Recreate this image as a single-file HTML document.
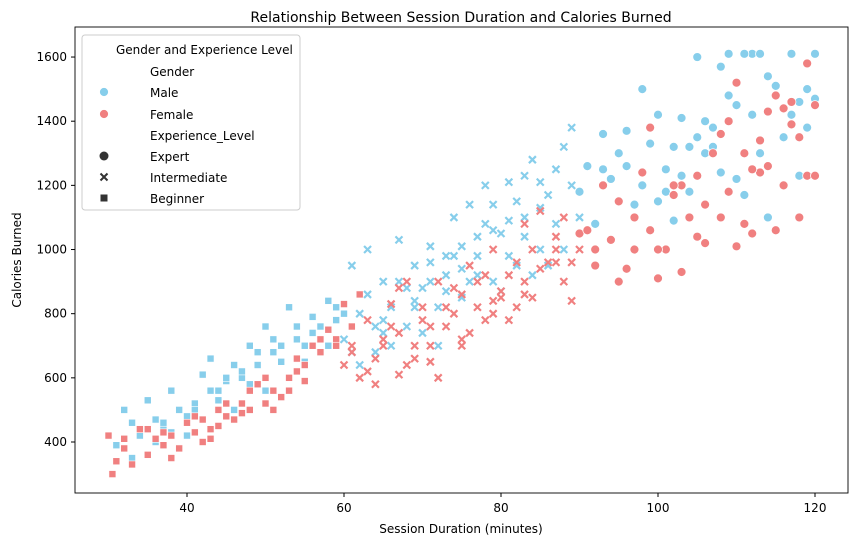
<!DOCTYPE html>
<html><head><meta charset="utf-8"><style>
body{margin:0;background:#fff;font-family:"Liberation Sans","DejaVu Sans",sans-serif}
svg text{font-family:"DejaVu Sans","Liberation Sans",sans-serif;fill:#000}
</style></head><body>
<svg id="chart" width="859" height="547" xmlns="http://www.w3.org/2000/svg">
<text x="461" y="22" font-size="14" text-anchor="middle">Relationship Between Session Duration and Calories Burned</text>
<g id="plot"></g>
<rect x="75" y="27" width="773" height="466" fill="none" stroke="#000" stroke-width="0.9"/>
<g id="axes"></g>
<text x="461" y="533" font-size="12" text-anchor="middle">Session Duration (minutes)</text>
<text transform="translate(21,260) rotate(-90)" font-size="12" text-anchor="middle">Calories Burned</text>
<g>
<rect x="82" y="35" width="218" height="175" rx="3" fill="#fff" fill-opacity="0.85" stroke="#ccc"/>
<text x="116" y="54" font-size="12">Gender and Experience Level</text>
<text x="150" y="76" font-size="12">Gender</text>
<circle cx="104" cy="92" r="4.5" fill="#87CEEB" stroke="#fff" stroke-width="0.8"/><text x="150" y="97" font-size="12">Male</text>
<circle cx="104" cy="114" r="4.5" fill="#F08080" stroke="#fff" stroke-width="0.8"/><text x="150" y="119" font-size="12">Female</text>
<text x="150" y="140" font-size="12">Experience_Level</text>
<circle cx="104" cy="156" r="4.5" fill="#333"/><text x="150" y="161" font-size="12">Expert</text>
<path d="M100.5,173.5l7,7M107.5,173.5l-7,7" stroke="#333" stroke-width="2"/><text x="150" y="182" font-size="12">Intermediate</text>
<rect x="100.5" y="194.5" width="7" height="7" fill="#333"/><text x="150" y="203" font-size="12">Beginner</text>
</g>
</svg>
<script>
const xTicks=[40,60,80,100,120];
const yTicks=[400,600,800,1000,1200,1400,1600];
const maleBeginnerX=[31,32,33,34,35,36,37,38,39,40,41,42,43,44,45,46,47,48,49,50,51,52,53,54,55,56,57,58,59,60,33,36,40,44,48,50,55,58,38,46,34,37,41,43,47,49,52,54,56,57,59,45,51];
const maleBeginnerY=[390,500,460,420,530,470,440,560,500,420,520,610,660,560,590,640,600,700,680,760,720,650,820,720,700,790,760,840,820,800,350,400,480,530,580,560,650,700,430,500,440,460,500,560,620,640,700,760,740,720,780,600,680];
const femaleBeginnerX=[30,30.5,31,32,33,34,35,36,37,38,39,40,41,42,43,44,45,46,47,48,49,50,51,52,53,54,55,56,57,58,59,60,62,45,50,55,42,38,48,53,32,35,37,41,44,47,51,54,57,59,61,43];
const femaleBeginnerY=[420,300,340,380,330,440,360,410,390,420,380,460,430,470,410,500,480,470,520,560,580,520,500,540,600,660,640,700,680,750,720,830,860,520,600,590,400,350,500,560,410,440,430,480,450,490,560,620,720,700,760,440];
const maleInterX=[60,61,62,63,64,65,66,67,68,69,70,71,72,73,74,75,76,77,78,79,80,81,82,83,84,85,86,87,88,89,90,64,68,72,76,80,84,62,70,78,86,74,66,82,88,61,63,65,67,69,71,73,75,77,79,81,83,85,87,89,65,69,73,77,81,85,71,75,79,83];
const maleInterY=[720,950,800,1000,680,900,820,1030,760,950,880,1010,700,920,1100,850,1140,980,1200,900,1050,1210,950,1100,1280,1000,1170,1250,1320,1380,1100,760,880,820,900,870,920,640,740,1080,950,980,700,1150,1000,680,860,780,900,840,960,870,1010,920,1060,980,1040,1130,1080,1200,740,820,980,1040,1090,1210,900,940,1140,1230];
const femaleInterX=[60,61,62,63,64,65,66,67,68,69,70,71,72,73,74,75,76,77,78,79,80,81,82,83,84,85,86,87,88,89,90,64,68,72,76,80,84,88,70,78,82,66,74,61,63,65,67,69,71,73,75,77,79,81,83,85,87,89,67,71,75,79,83,87];
const femaleInterY=[640,700,600,780,660,720,830,610,900,700,820,650,900,760,880,700,950,820,780,1000,870,780,960,1080,850,1120,960,1000,1100,840,1000,580,640,600,740,850,1000,900,780,920,820,760,800,680,620,700,740,660,760,820,860,900,840,920,900,940,1040,960,880,700,720,800,860,960,1060];
const maleExpertX=[90,91,92,93,94,95,96,97,98,99,100,101,102,103,104,105,106,107,108,109,110,111,112,113,114,115,116,117,118,119,120,110,104,100,108,112,116,118,96,102,106,114,119,111,113,93,98,103,107,109,115,117,120,105,101];
const maleExpertY=[1180,1260,1080,1360,1220,1300,1370,1140,1500,1330,1420,1250,1320,1410,1180,1600,1300,1380,1570,1610,1450,1170,1610,1300,1540,1480,1200,1610,1460,1500,1610,1220,1320,1150,1240,1420,1350,1230,1260,1090,1400,1100,1380,1610,1610,1250,1200,1230,1320,1480,1510,1420,1470,1350,1180];
const femaleExpertX=[90,91,92,93,94,95,96,97,98,99,100,101,102,103,104,105,106,107,108,109,110,111,112,113,114,115,116,117,118,119,120,97,103,108,112,118,115,110,105,100,114,119,116,92,95,99,102,106,109,111,113,117,120];
const femaleExpertY=[1050,1060,950,1200,1030,900,940,1100,1240,1380,910,1000,1170,930,1100,1230,1020,1300,1100,1400,1010,1300,1050,1240,1430,1060,1200,1460,1350,1580,1450,1000,1200,1360,1250,1100,1480,1520,1040,1000,1260,1230,1440,1000,1150,1060,1200,1140,1180,1080,1340,1390,1230];

const NS="http://www.w3.org/2000/svg";
const sx=v=>187+(v-40)*7.85;
const sy=v=>442-(v-400)*0.3208;
const plot=document.getElementById('plot'),axes=document.getElementById('axes');
function mk(t,a,p){const e=document.createElementNS(NS,t);for(const k in a)e.setAttribute(k,a[k]);p.appendChild(e);return e;}
xTicks.forEach(t=>{
  const l=mk('line',{x1:sx(t),x2:sx(t),y1:493,y2:497,stroke:'#000'},axes);
  
  
  const tx=mk('text',{x:sx(t),y:512,'font-size':12,'text-anchor':'middle'},axes);tx.textContent=t;
  
  
});
yTicks.forEach(t=>{
  const l=mk('line',{x1:71,x2:75,y1:sy(t),y2:sy(t),stroke:'#000'},axes);
  
  
  const tx=mk('text',{x:67,y:sy(t)+4,'font-size':12,'text-anchor':'end'},axes);tx.textContent=t;
  
  
});
function draw(xs,ys,color,shape){
  xs.forEach((x,i)=>{
    const cx=sx(x),cy=sy(ys[i]);let e;
    if(shape==='o')e=mk('circle',{cx:cx,cy:cy,r:4.5,fill:color,stroke:'#fff','stroke-width':0.8},plot);
    else if(shape==='s')e=mk('rect',{x:cx-3.5,y:cy-3.5,width:7,height:7,fill:color,stroke:'#fff','stroke-width':0.6},plot);
    else e=mk('path',{d:`M${cx-3.5},${cy-3.5}l7,7M${cx+3.5},${cy-3.5}l-7,7`,stroke:color,'stroke-width':2.2},plot);
    
    
  });
}
const B='#87CEEB',R='#F08080';
draw(maleBeginnerX,maleBeginnerY,B,'s');
draw(femaleBeginnerX,femaleBeginnerY,R,'s');
draw(maleInterX,maleInterY,B,'x');
draw(femaleInterX,femaleInterY,R,'x');
draw(maleExpertX,maleExpertY,B,'o');
draw(femaleExpertX,femaleExpertY,R,'o');
</script>
</body></html>
